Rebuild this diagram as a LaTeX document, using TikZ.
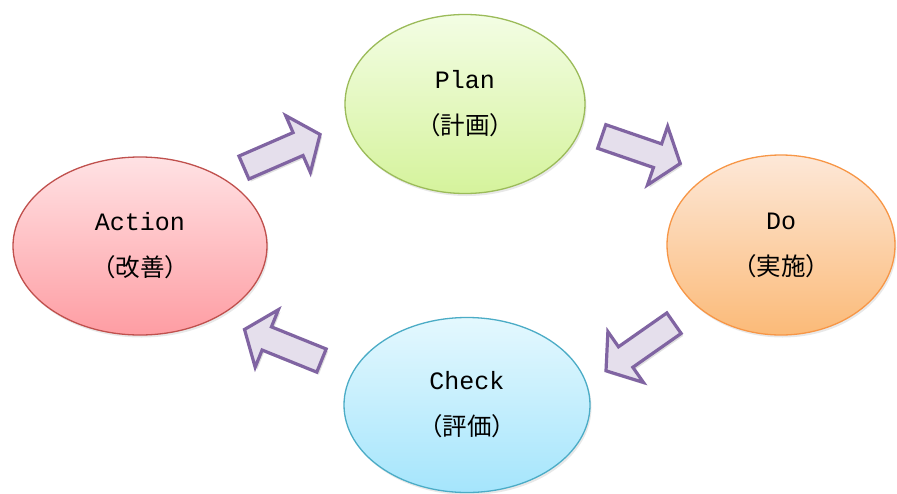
\documentclass[tikz,border=0pt]{standalone}
\usepackage{fontspec}
\setmainfont{Liberation Mono}
\newfontfamily\cjk{Noto Sans CJK JP}
\usetikzlibrary{shapes.geometric,shadows}
\definecolor{plantop}{HTML}{F3FDE4}
\definecolor{planbot}{HTML}{D5F39C}
\definecolor{planbd}{HTML}{9BBB59}
\definecolor{dotop}{HTML}{FDE8D8}
\definecolor{dobot}{HTML}{FBBA78}
\definecolor{dobd}{HTML}{F79646}
\definecolor{actop}{HTML}{FFE2E4}
\definecolor{acbot}{HTML}{FE9DA3}
\definecolor{acbd}{HTML}{C0504D}
\definecolor{chtop}{HTML}{E4F8FE}
\definecolor{chbot}{HTML}{A5E5FC}
\definecolor{chbd}{HTML}{4BACC6}
\definecolor{arrfill}{HTML}{E5DFEC}
\definecolor{arrdraw}{HTML}{8064A2}
\newcommand\jp[1]{{\cjk\fontsize{24.5}{46}\selectfont #1}}
\tikzset{
  phase/.style={ellipse, line width=1.3pt, inner sep=0pt, align=center,
    font=\fontsize{25}{46}\selectfont,
    drop shadow={opacity=0.18, shadow xshift=1.5pt, shadow yshift=-2.5pt}},
  blockarr/.style={fill=arrfill, draw=arrdraw, line width=3.2pt, line join=miter,
    drop shadow={opacity=0.25, shadow xshift=2pt, shadow yshift=-2.5pt}}
}
\newcommand\blockarrow[2]{%
  \draw[blockarr, shift={(#1)}, rotate=#2]
    (-41.5,-12.5) -- (17.5,-12.5) -- (17.5,-31) -- (41.5,0) -- (17.5,31)
    -- (17.5,12.5) -- (-41.5,12.5) -- cycle;}
\begin{document}
\begin{tikzpicture}[x=1pt,y=-1pt]
\useasboundingbox (0,0) rectangle (897,493);
\fill[white] (0,0) rectangle (897,493);
\node[phase, draw=planbd, top color=plantop, bottom color=planbot,
  minimum width=240pt, minimum height=179pt] (plan) at (465,104) {Plan\\\jp{（計画）}};
\node[phase, draw=dobd, top color=dotop, bottom color=dobot,
  minimum width=228pt, minimum height=180pt] (do) at (781,245) {Do\\\jp{（実施）}};
\node[phase, draw=acbd, top color=actop, bottom color=acbot,
  minimum width=254pt, minimum height=178pt] (act) at (140,246) {Action\\\jp{（改善）}};
\node[phase, draw=chbd, top color=chtop, bottom color=chbot,
  minimum width=246pt, minimum height=175pt] (chk) at (467,405) {Check\\\jp{（評価）}};
\blockarrow{282,151}{23.5}
\blockarrow{641,150}{-19}
\blockarrow{640,347}{215}
\blockarrow{283,345}{158}
\end{tikzpicture}
\end{document}
